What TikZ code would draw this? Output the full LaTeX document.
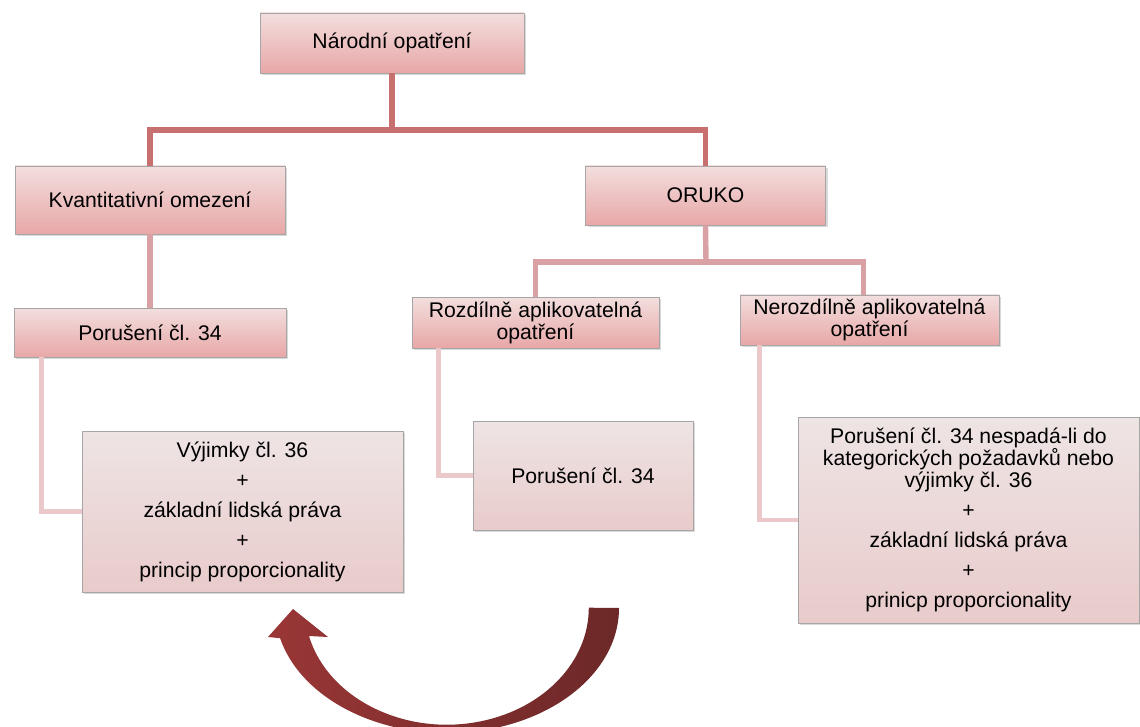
\documentclass[tikz,border=0pt]{standalone}
\usepackage{fontspec}
\setmainfont{Liberation Sans}
\usetikzlibrary{shadows}

\definecolor{pinktop}{HTML}{F3DEDE}
\definecolor{pinkbot}{HTML}{E8A7A7}
\definecolor{paletop}{HTML}{EEE4E4}
\definecolor{palebot}{HTML}{E9CBCB}
\definecolor{lineone}{HTML}{C87070}
\definecolor{linetwo}{HTML}{D9A1A4}
\definecolor{linethree}{HTML}{EBC9CB}
\definecolor{arrowleft}{HTML}{9A3636}
\definecolor{arrowright}{HTML}{6C2828}

\begin{document}
\begin{tikzpicture}[x=0.5pt,y=-0.5pt,
	box/.style={draw=black!35, line width=0.4pt, align=center, inner sep=2pt,
		font=\fontsize{10.6}{11}\selectfont,
		drop shadow={shadow xshift=1pt, shadow yshift=-1.2pt, opacity=0.3}},
	boxdark/.style={box, top color=pinktop, bottom color=pinkbot},
	boxlight/.style={box, top color=paletop, bottom color=palebot},
	linkone/.style={draw=lineone, line width=2.7pt},
	linktwo/.style={draw=linetwo, line width=2.7pt},
	linkthree/.style={draw=linethree, line width=2.3pt}]
	\useasboundingbox (0,0) rectangle (1140,727);

	% connectors
	\coordinate (j1) at (392,130);
	\coordinate (j2) at (706,262);
	\node[boxdark, minimum width=132pt, minimum height=30pt] (nat) at (392,43) {Národní opatření};
	\node[boxdark, minimum width=135pt, minimum height=34pt] (kvant) at (150,200) {Kvantitativní omezení};
	\node[boxdark, minimum width=120pt, minimum height=29.5pt] (oruko) at (705.5,195.5) {ORUKO};
	\draw[linkone] (nat.south) -- (j1) -| (kvant.north);
	\draw[linkone] (j1) -| (oruko.north);

	\node[boxdark, minimum width=136pt, minimum height=24.5pt] (por1) at (150,332.5) {Porušení čl. 34};
	\node[boxdark, minimum width=123.5pt, minimum height=25.5pt] (rozd) at (535.5,322.5) {Rozdílně aplikovatelná\\opatření};
	\node[boxdark, minimum width=129.5pt, minimum height=23pt] (neroz) at (869.5,320) {Nerozdílně aplikovatelná\\opatření};
	\draw[linktwo] (kvant.south) -- (por1.north);
	\draw[linktwo] (oruko.south) -- (j2);
	\draw[linktwo] (rozd.north) |- (j2) -| ([xshift=-3pt]neroz.north);

	\node[boxlight, minimum width=160.5pt, minimum height=80.5pt] (vyj) at (242.5,511.5)
		{Výjimky čl. 36\\[4pt] +\\[4pt] základní lidská práva\\[4pt] +\\[4pt] princip proporcionality};
	\node[boxlight, minimum width=110pt, minimum height=54.5pt] (por2) at (583,475.5) {Porušení čl. 34};
	\node[boxlight, minimum width=170.5pt, minimum height=103pt] (kat) at (968.5,520)
		{Porušení čl. 34 nespadá-li do\\kategorických požadavků nebo\\výjimky čl. 36\\[4pt] +\\[4pt] základní lidská práva\\[4pt] +\\[4pt] prinicp proporcionality};
	\draw[linkthree] ([xshift=14pt]por1.south west) |- (vyj.west);
	\draw[linkthree] ([xshift=13.5pt]rozd.south west) |- (por2.west);
	\draw[linkthree] ([xshift=10pt]neroz.south west) |- (kat.west);

	% curved arrow
	\path[left color=arrowleft, right color=arrowright]
		(619,608) arc[start angle=0, end angle=166, x radius=172, y radius=125]
		-- (268,637) -- (293,609) -- (328,637)
		-- (309,636) arc[start angle=166, end angle=0, x radius=142, y radius=117]
		-- cycle;
\end{tikzpicture}
\end{document}
